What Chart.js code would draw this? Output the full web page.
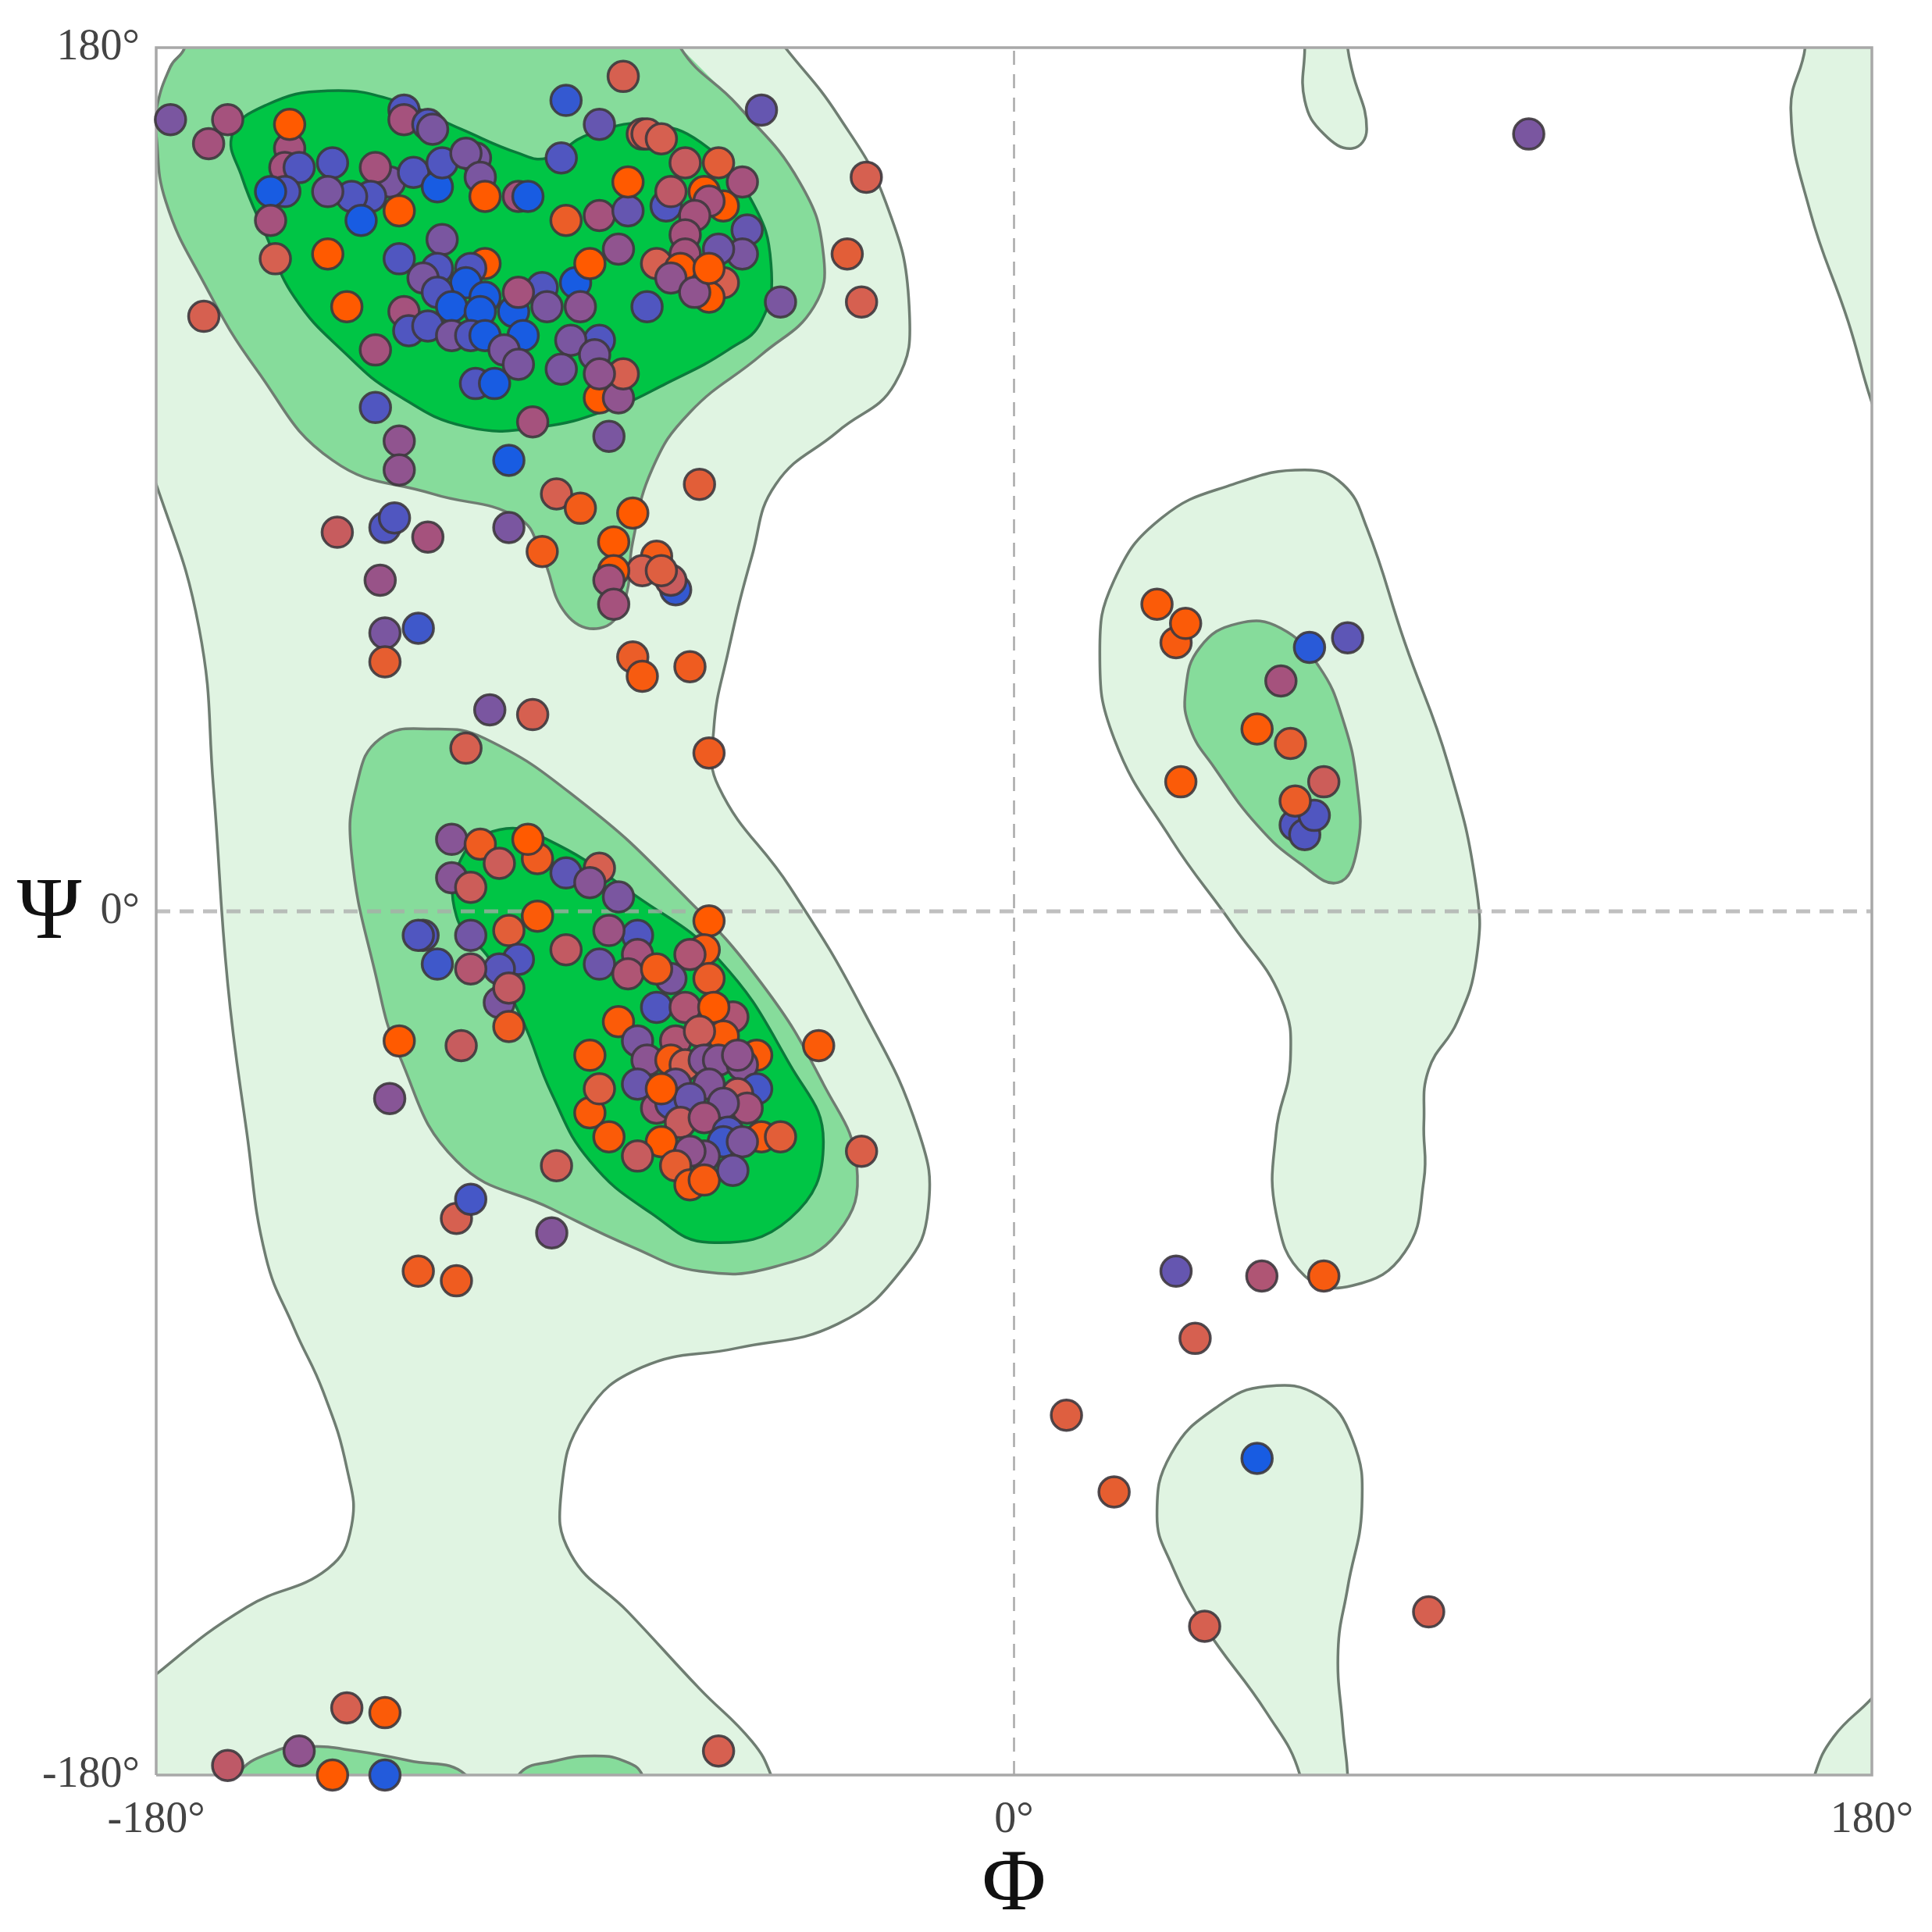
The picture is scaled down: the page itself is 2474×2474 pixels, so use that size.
<!DOCTYPE html>
<html>
<head>
<meta charset="utf-8">
<title>Ramachandran plot</title>
<script src="https://cdn.jsdelivr.net/npm/chart.js@4"></script>
<style>
    html, body { margin: 0; padding: 0; background: #fff; }
    canvas { display: block; }
</style>
</head>
<body>
<canvas id="rama" width="2474" height="2474"></canvas>
<script>
// Axis ticks
const tickValues = [-180, 0, 180];

// Contours, [phi, psi] in degrees. Points past +-180 run off the plot and get clipped.
const allowedLeft = [[-48,180],[-37,166],[-27,148],[-22,126],[-25,110],[-37,100],[-50,89],[-55,74],[-60,54],[-63,38],[-62,26],[-47,5],[-32,-20],[-20,-46],[-18,-62],[-23,-74],[-37,-86],[-58,-91],[-78,-95],[-90,-105],[-95,-121],[-93,-134],[-81,-146],[-66,-162],[-55,-173],[-51,-180],[-49,-188],[-195,-195],[-195,-170],[-187,-166],[-180,-159],[-161,-145],[-144,-137],[-139,-128],[-140,-116],[-145,-100],[-151,-87],[-157,-72],[-161,-46],[-165,-15],[-168,26],[-171,59],[-180,89],[-186,103],[-190,140],[-184,165],[-180,167],[-177,176],[-174,180],[-172,190],[-60,195],[-48,180]];
const allowedMiddle = [[18,54],[21,69],[31,82],[46,89],[61,92],[69,89],[74,80],[82,56],[91,31],[97,5],[97,-10],[93,-23],[87,-33],[86,-44],[86,-56],[82,-71],[71,-78],[61,-76],[55,-63],[55,-46],[58,-31],[56,-18],[46,-3],[33,15],[21,36],[18,54]];
const allowedTop = [[61,180],[61,169],[65,162],[71,159],[74,163],[71,175],[70,180],[69,190],[61,190],[61,180]];
const allowedRight = [[166,180],[163,167],[167,146],[175,123],[180,106],[184,96],[195,100],[195,190],[166,190],[166,180]];
const allowedCorner = [[180,-164],[172,-172],[168,-180],[166,-190],[195,-190],[195,-155],[186,-157],[180,-164]];
const allowedLower = [[30,-126],[33,-113],[43,-103],[53,-99],[64,-101],[71,-110],[73,-124],[70,-141],[68,-154],[69,-170],[70,-180],[70,-190],[60,-190],[60,-180],[53,-167],[40,-149],[33,-136],[30,-126]];
const favouredBeta = [[-70,180],[-58,168],[-45,152],[-40,137],[-42,126],[-53,116],[-68,104],[-76,92],[-80,77],[-82,64],[-87,59],[-94,62],[-99,74],[-104,82],[-122,87],[-143,94],[-159,113],[-170,131],[-178,148],[-180,162],[-180,167],[-177,176],[-174,180],[-172,190],[-75,195],[-70,180]];
const favouredAlpha = [[-139,12],[-138,26],[-133,36],[-122,38],[-111,36],[-91,23],[-71,5],[-53,-15],[-40,-36],[-33,-53],[-37,-67],[-50,-74],[-66,-75],[-80,-70],[-97,-62],[-117,-52],[-129,-30],[-134,-13],[-139,12]];
const favouredLeft = [[36,46],[39,55],[47,60],[56,59],[64,51],[69,40],[72,26],[72,13],[68,6],[60,10],[51,18],[42,30],[37,38],[36,46]];
const favouredBumpA = [[-163,-180],[-155,-175],[-148,-174],[-138,-175],[-127,-177],[-115,-180],[-112,-190],[-166,-190],[-163,-180]];
const favouredBumpB = [[-104,-180],[-96,-177],[-88,-176],[-82,-177],[-78,-180],[-76,-190],[-106,-190],[-104,-180]];
const coreBeta = [[-164,162],[-157,168],[-144,171],[-130,169],[-116,163],[-104,158],[-98,157],[-89,162],[-76,164],[-64,159],[-55,148],[-51,135],[-53,123],[-60,117],[-73,110],[-84,105],[-99,101],[-115,101],[-130,108],[-140,116],[-151,128],[-157,141],[-162,153],[-164,162]];
const coreAlpha = [[-116,11],[-108,17],[-98,15],[-79,3],[-62,-10],[-47,-32],[-40,-48],[-47,-64],[-64,-69],[-76,-63],[-89,-52],[-97,-38],[-103,-23],[-110,-10],[-117,-1],[-116,11]];

// Residues, [phi, psi, shade], shade runs from 0 (orange) to 5 (blue)
const betaResidues = [[-128,167,4],[-128,165,2],[-123,164,4],[-122,163,3],[-177,165,3],[-169,160,2],[-165,165,2],[-152,159,2],[-152,164,0],[-153,155,2],[-150,155,4],[-143,156,4],[-153,150,4],[-156,150,5],[-131,152,3],[-134,155,2],[-135,149,4],[-139,149,4],[-144,150,3],[-137,144,5],[-156,144,2],[-155,136,1],[-144,137,0],[-129,146,0],[-126,154,4],[-121,151,5],[-113,157,3],[-120,156,4],[-115,158,3],[-112,153,3],[-111,149,0],[-140,126,0],[-134,117,2],[-120,140,3],[-129,136,4],[-111,135,0],[-121,134,4],[-114,134,4],[-124,132,3],[-115,131,5],[-121,129,4],[-118,126,5],[-111,128,5],[-112,125,5],[-128,125,2],[-127,121,4],[-123,122,4],[-118,120,3],[-114,120,4],[-111,120,5],[-105,125,5],[-103,120,5],[-99,130,4],[-104,129,2],[-98,126,3],[-92,131,5],[-91,126,2.6],[-89,135,0],[-83,138,2.5],[-75,135,1],[-77,126,4],[-107,117,3],[-104,114,3],[-113,110,4],[-109,110,5],[-134,105,4],[-129,98,2.5],[-129,92,2.5],[-106,94,5],[-101,102,2],[-85,99,3],[-87,119,4],[-93,119,3],[-88,116,3],[-95,113,3],[-87,107,0],[-83,107,2.5],[-82,112,1],[-87,112,2.5],[-94,144,0.5],[-87,145,2],[-81,146,3.5],[-81,152,0],[-95,157,4],[-104,149,2],[-102,149,5],[-94,169,4.5],[-82,174,1],[-87,164,3.5],[-53,167,3.5],[-78,162,1],[-77,162,1],[-74,161,1],[-69,156,1.3],[-62,156,0.7],[-57,152,2],[-65,150,0],[-61,147,0],[-73,147,4],[-72,150,1.5],[-64,148,2],[-67,145,2],[-69,141,2],[-56,142,3.5],[-57,137,3],[-69,137,2],[-62,138,3.3],[-70,134,0],[-72,132,2.5],[-61,131,1],[-64,128,0],[-67,129,2.5],[-64,134,0],[-49,127,3],[-170,124,1],[-31,153,1],[-35,137,0.7],[-32,127,1],[108,162,3]];
const bridgeResidues = [[-66,89,0.7],[-96,87,1],[-91,84,0.3],[-80,83,0],[-106,80,3],[-142,79,1.3],[-132,80,4],[-130,82,4],[-123,78,2],[-99,75,0.3],[-84,77,0],[-71,67,4.5],[-75,74,0.3],[-78,71,1],[-84,71,0],[-85,69,2],[-84,64,2],[-72,69,1.3],[-74,71,0.8],[-133,69,2.3],[-132,58,3],[-125,59,4.3],[-132,52,0.6],[-80,53,0.5],[-78,49,0.2],[-68,51,0.4],[-110,42,3],[-101,41,1],[-115,34,1],[-64,33,0.4]];
const alphaResidues = [[-118,15,2.7],[-112,14,0.4],[-118,7,2.7],[-114,5,1.2],[-100,11,0.4],[-108,10,1.2],[-102,15,0],[-94,8,3.7],[-87,9,1],[-89,6,2.7],[-83,3,3],[-100,-1,0.1],[-106,-4,0.7],[-114,-5,3.2],[-124,-5,4],[-125,-5,4],[-121,-11,4.3],[-94,-8,1.4],[-79,-5,4],[-85,-4,2.2],[-64,-2,0],[-79,-9,2],[-65,-8,0.2],[-68,-9,1.8],[-104,-10,4],[-108,-12,3.8],[-114,-12,1.7],[-108,-19,3],[-106,-16,1.4],[-87,-11,3.3],[-81,-13,1.8],[-72,-14,3],[-75,-12,0.3],[-64,-14,0.5],[-75,-20,4],[-59,-22,1.8],[-69,-20,1.8],[-63,-20,0],[-106,-24,0.4],[-129,-27,0],[-116,-28,1.3],[-131,-39,2.7],[-83,-23,0.1],[-79,-27,3],[-89,-30,0.1],[-77,-31,2.6],[-61,-26,0.1],[-71,-27,1.8],[-66,-25,1.2],[-54,-30,0.1],[-72,-31,0.2],[-69,-32,1],[-65,-31,2.8],[-62,-31,2.7],[-57,-32,2.7],[-58,-30,2.5],[-89,-42,0.1],[-87,-37,0.8],[-79,-36,3.4],[-54,-37,4.2],[-58,-38,1.2],[-71,-36,3],[-64,-36,2.8],[-75,-41,2],[-72,-40,4],[-68,-39,3.4],[-74,-37,0],[-56,-41,2],[-61,-40,2.9],[-70,-44,1.3],[-65,-43,2],[-60,-46,4],[-85,-47,0.1],[-74,-48,0],[-79,-51,1.3],[-61,-48,4.3],[-53,-47,0.2],[-49,-47,0.7],[-57,-48,2.9],[-65,-51,2.7],[-68,-50,2.5],[-71,-53,0.6],[-68,-57,0.2],[-65,-56,0.2],[-59,-54,3.2],[-96,-53,1.1],[-41,-28,0.1],[-32,-50,0.9],[-117,-64,1],[-114,-60,4.2],[-97,-67,2.8],[-125,-75,0.4],[-117,-77,0.4]];
const leftHandResidues = [[30,64,0.1],[34,56,0.2],[36,60,0.1],[62,55,4.7],[70,57,3.7],[56,48,2],[51,38,0.1],[58,35,0.6],[35,27,0.1],[65,27,1.2],[59,18,4],[61,16,4],[63,20,4],[59,23,0.5]];
const lowerResidues = [[34,-75,3.5],[52,-76,1.8],[65,-76,0.2],[38,-89,1],[11,-105,0.8],[21,-121,0.6],[51,-114,5],[40,-149,1],[87,-146,1],[-140,-166,1],[-132,-167,0.1],[-62,-175,1],[-165,-178,1.5],[-150,-175,2.5],[-143,-180,0],[-132,-180,4.8]];

const phiLabel = 'Φ';
const psiLabel = 'Ψ';

const LIGHT_GREEN = '#e0f4e2';
const MID_GREEN = '#86dc9b';
const DARK_GREEN = '#00c545';
const CONTOUR_GREY = '#6f7d72';
const CONTOUR_DARK = '#0b7a3b';
const AXIS_FONT = '"Liberation Serif", serif';
const shadeStops = [[255, 90, 0], [214, 96, 80], [165, 82, 125], [122, 86, 160], [80, 86, 192], [24, 92, 226]];

function shadeColor(shade) {
    const low = Math.min(Math.floor(shade), shadeStops.length - 2);
    const t = shade - low;
    const rgb = shadeStops[low].map((c, i) => Math.round(c + (shadeStops[low + 1][i] - c) * t));
    return `rgb(${rgb.join(',')})`;
}

function toXY(list) {
    return list.map(p => ({ x: p[0], y: p[1] }));
}

function contour(list, fillColor, lineColor, order) {
    // every list ends on its first point; overlap one point each way so the join has no kink,
    // the two overlap segments are hidden and the styled split closes the middle part exactly
    const wrapped = [list[list.length - 2], ...list, list[1]];
    const lastIndex = wrapped.length - 1;
    return {
        data: toXY(wrapped),
        showLine: true,
        fill: 'shape',
        backgroundColor: fillColor,
        borderColor: lineColor,
        borderWidth: 3.5,
        tension: 0.45,
        capBezierPoints: false,
        pointRadius: 0,
        segment: {
            borderColor: ctx => (ctx.p0DataIndex === 0 || ctx.p1DataIndex === lastIndex ? 'rgba(0,0,0,0)' : undefined)
        },
        order
    };
}

function guide(list, color, width, dash) {
    return {
        data: toXY(list),
        showLine: true,
        fill: false,
        borderColor: color,
        borderWidth: width,
        borderDash: dash,
        pointRadius: 0,
        clip: false,
        order: 1
    };
}

const residues = [...betaResidues, ...bridgeResidues, ...alphaResidues, ...leftHandResidues, ...lowerResidues];

// The psi letter stays upright, which an axis title can't do
const psiTitle = {
    id: 'psiTitle',
    afterDraw(chart) {
        const ctx = chart.ctx;
        ctx.save();
        ctx.font = `112px ${AXIS_FONT}`;
        ctx.fillStyle = '#111';
        ctx.textAlign = 'center';
        ctx.textBaseline = 'middle';
        ctx.fillText(psiLabel, 63, 1172);
        ctx.restore();
    }
};

new Chart(document.getElementById('rama'), {
    type: 'scatter',
    data: {
        datasets: [
            {
                data: toXY(residues),
                pointRadius: 19.5,
                pointBackgroundColor: residues.map(p => shadeColor(p[2])),
                pointBorderColor: 'rgba(62,56,62,0.9)',
                pointBorderWidth: 3.5,
                clip: false,
                order: 0
            },
            guide([[0, -180], [0, 180]], '#a9a9a9', 2.5, [18, 12]),
            guide([[-180, 0], [180, 0]], 'rgba(170,170,170,0.75)', 5, [18, 12]),
            guide([[-180, -180], [-180, 180], [180, 180], [180, -180], [-180, -180]], '#a8a8a8', 3.5, []),
            contour(coreBeta, DARK_GREEN, CONTOUR_DARK, 2),
            contour(coreAlpha, DARK_GREEN, CONTOUR_DARK, 2),
            contour(favouredBeta, MID_GREEN, CONTOUR_GREY, 3),
            contour(favouredAlpha, MID_GREEN, CONTOUR_GREY, 3),
            contour(favouredLeft, MID_GREEN, CONTOUR_GREY, 3),
            contour(favouredBumpA, MID_GREEN, CONTOUR_GREY, 3),
            contour(favouredBumpB, MID_GREEN, CONTOUR_GREY, 3),
            contour(allowedLeft, LIGHT_GREEN, CONTOUR_GREY, 4),
            contour(allowedMiddle, LIGHT_GREEN, CONTOUR_GREY, 4),
            contour(allowedTop, LIGHT_GREEN, CONTOUR_GREY, 4),
            contour(allowedRight, LIGHT_GREEN, CONTOUR_GREY, 4),
            contour(allowedCorner, LIGHT_GREEN, CONTOUR_GREY, 4),
            contour(allowedLower, LIGHT_GREEN, CONTOUR_GREY, 4)
        ]
    },
    options: {
        responsive: false,
        animation: false,
        devicePixelRatio: 1,
        layout: { padding: { top: 61, right: 77 } },
        plugins: { legend: { display: false }, tooltip: { enabled: false } },
        scales: {
            x: {
                type: 'linear',
                min: -180,
                max: 180,
                grid: { display: false },
                border: { display: false },
                afterBuildTicks: scale => { scale.ticks = tickValues.map(value => ({ value })); },
                afterFit: scale => { scale.height = 201; },
                ticks: {
                    autoSkip: false,
                    maxRotation: 0,
                    padding: 17,
                    color: '#444',
                    font: { family: AXIS_FONT, size: 56 },
                    callback: v => v + '°'
                },
                title: {
                    display: true,
                    text: phiLabel,
                    color: '#111',
                    font: { family: AXIS_FONT, size: 112 },
                    padding: { top: 0, bottom: -9 }
                }
            },
            y: {
                type: 'linear',
                min: -180,
                max: 180,
                grid: { display: false },
                border: { display: false },
                afterBuildTicks: scale => { scale.ticks = tickValues.map(value => ({ value })); },
                afterFit: scale => { scale.width = 200; },
                ticks: {
                    autoSkip: false,
                    padding: 13,
                    color: '#444',
                    font: { family: AXIS_FONT, size: 56 },
                    callback: v => v + '°'
                }
            }
        }
    },
    plugins: [psiTitle]
});
</script>
</body>
</html>
